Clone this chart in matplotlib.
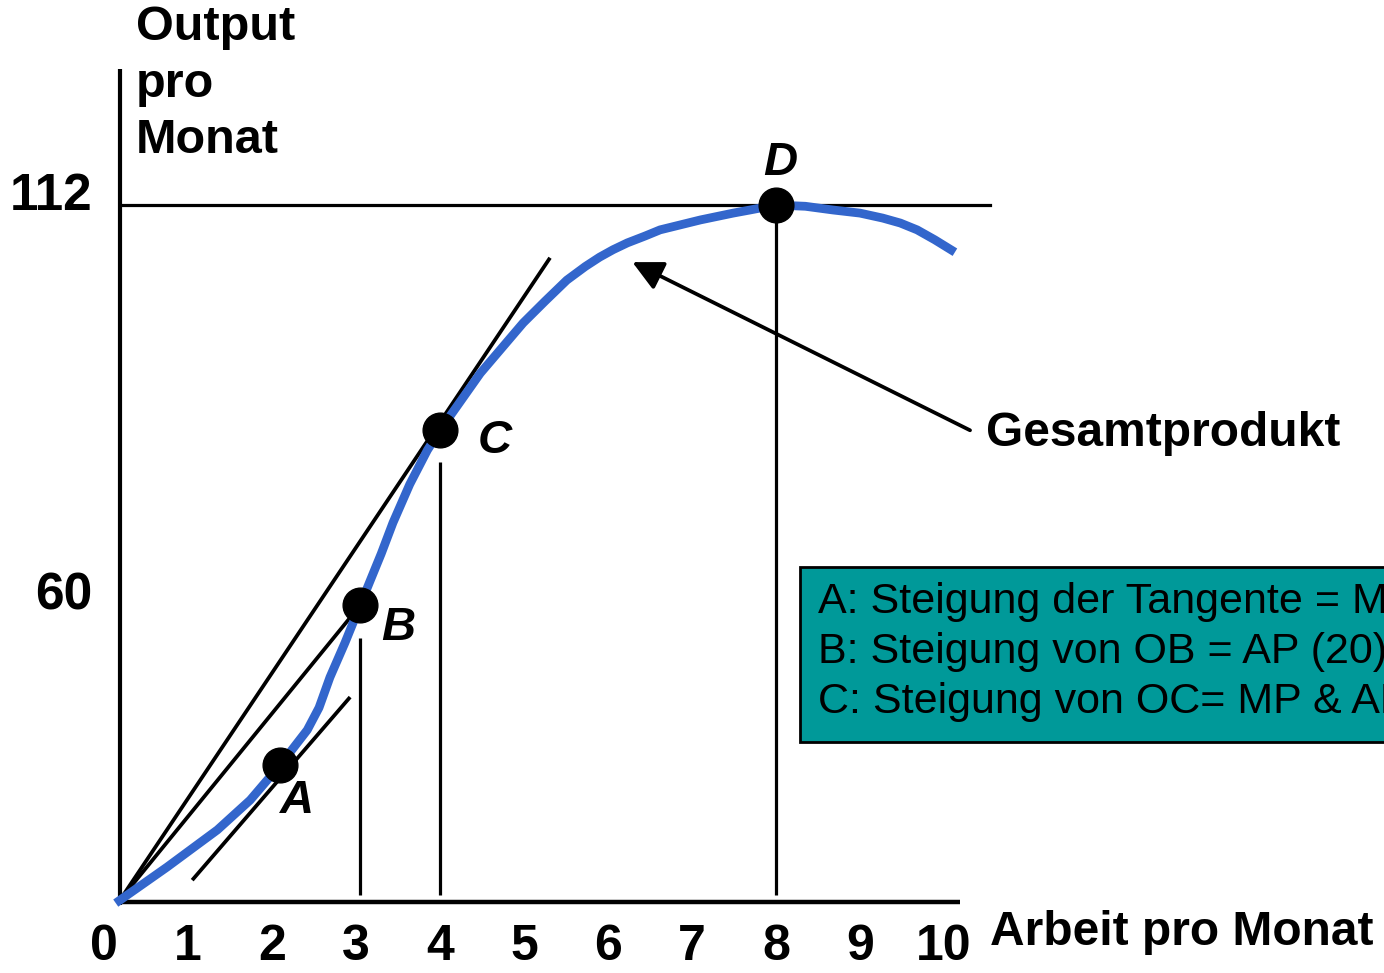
import matplotlib
matplotlib.use("Agg")
import matplotlib.pyplot as plt
from matplotlib.patches import Rectangle

plt.rcParams['font.family'] = ['Liberation Sans', 'DejaVu Sans']

# total product curve (labour per month, output per month)
labour = [0.14, 0.75, 1.35, 1.74, 2.10, 2.42, 2.56, 2.69, 2.87, 3.05, 3.17, 3.30, 3.44,
          3.64, 3.85, 4.00, 4.48, 4.99, 5.25, 5.51, 5.73, 5.90, 6.06, 6.23, 6.44,
          6.62, 6.86, 7.10, 7.49, 7.69, 8.00, 8.35, 8.68, 9.00, 9.27, 9.48, 9.68,
          9.89, 10.13]
output = [-0.5, 5.3, 11.3, 16.1, 21.8, 27.4, 31.0, 35.9, 41.5, 47.5, 51.5, 55.8, 60.8,
          67.0, 72.5, 75.7, 84.9, 93.0, 96.5, 99.9, 102.1, 103.6, 104.8, 105.9, 107.0,
          108.0, 108.8, 109.6, 110.7, 111.2, 112.0, 111.8, 111.2, 110.7, 109.9, 109.1, 108.0,
          106.4, 104.4]

# marked points A..D
pt_names = ['A', 'B', 'C', 'D']
pt_x = [2.10, 3.05, 4.00, 8.00]
pt_y = [21.8, 47.5, 75.7, 112.0]

# tangent at A, ray O-B, ray O-C
tan_a_x = [1.05, 2.93]
tan_a_y = [3.2, 32.7]
ob_x = [0.19, 3.05]
ob_y = [0.0, 47.5]
oc_x = [0.19, 5.31]
oc_y = [0.0, 103.5]

# drop lines (x, top)
drop_x = [3.05, 4.00, 8.00]
drop_top = [42.2, 70.6, 112.0]
drop_bottom = 0.8

x_ticks = [0, 1, 2, 3, 4, 5, 6, 7, 8, 9, 10]
y_tick_labels = ['112', '60']
y_tick_pos = [113.3, 49.0]

notes = ["A: Steigung der Tangente = MP (20)",
         "B: Steigung von OB = AP (20)",
         "C: Steigung von OC= MP & AP (30)"]

blue = '#3366cc'
teal = '#009999'

fig = plt.figure(figsize=(13.84, 9.73), dpi=100)
ax = fig.add_axes([0, 0, 1, 1])
ax.set_xlim(-104 / 84, 1280 / 84)
ax.set_ylim(-73 / 6.205, 900 / 6.205)
ax.axis('off')

# axes
ax.plot([0.19, 0.19], [-0.8, 134], color='k', lw=3, solid_capstyle='butt')
ax.plot([0.17, 10.19], [-0.3, -0.3], color='k', lw=3.2, solid_capstyle='butt')

# horizontal line at max
ax.plot([0.19, 10.55], [112, 112], color='k', lw=2.3)

for dx, top in zip(drop_x, drop_top):
    ax.plot([dx, dx], [drop_bottom, top], color='k', lw=2.3, solid_capstyle='butt')

ax.plot(tan_a_x, tan_a_y, color='k', lw=2.7, solid_capstyle='butt')
ax.plot(ob_x, ob_y, color='k', lw=2.7, solid_capstyle='butt')
ax.plot(oc_x, oc_y, color='k', lw=2.7, solid_capstyle='butt')

ax.plot(labour, output, color=blue, lw=6.3, solid_capstyle='butt',
        solid_joinstyle='round', zorder=3)

ax.plot(pt_x, pt_y, 'o', color='k', markersize=25, zorder=4)

label_off = [(0.2, -5.9), (0.45, -3.6), (0.65, -1.7), (0.05, 6.8)]
for n, x, y, (ox, oy) in zip(pt_names, pt_x, pt_y, label_off):
    ax.text(x + ox, y + oy, n, fontsize=34, fontweight='bold', fontstyle='italic',
            ha='center', va='center')

# arrow to curve
ax.annotate('', xy=(6.29, 102.8), xytext=(10.31, 75.7),
            arrowprops=dict(arrowstyle='-|>', color='k', lw=2.7, mutation_scale=46,
                            shrinkA=0, shrinkB=0))
ax.text(10.5, 75.2, 'Gesamtprodukt', fontsize=34.5, fontweight='bold',
        ha='left', va='center')

# axis texts
ax.text(0.38, 144.2, 'Output\npro\nMonat', fontsize=35, fontweight='bold',
        ha='left', va='top', linespacing=1.33)
ax.text(10.55, -5.3, 'Arbeit pro Monat', fontsize=34.5, fontweight='bold',
        ha='left', va='center')

for t in x_ticks:
    ax.text(t, -7.6, str(t), fontsize=36, fontweight='bold', ha='center',
            va='center', family=['Liberation Sans Narrow', 'Liberation Sans'])
for lab, y in zip(y_tick_labels, y_tick_pos):
    ax.text(-0.14, y, lab, fontsize=37, fontweight='bold', ha='right', va='center')

# note box (runs off the right edge, as in the original slide)
ax.add_patch(Rectangle((8.286, 25.46), 8.0, 28.2, facecolor=teal,
                       edgecolor='k', lw=2, zorder=2))
for i, s in enumerate(notes):
    ax.text(8.5, 48.0 - 8.06 * i, s, fontsize=31, ha='left', va='center',
            zorder=3, clip_on=True)

fig.savefig('out.png', dpi=100)
